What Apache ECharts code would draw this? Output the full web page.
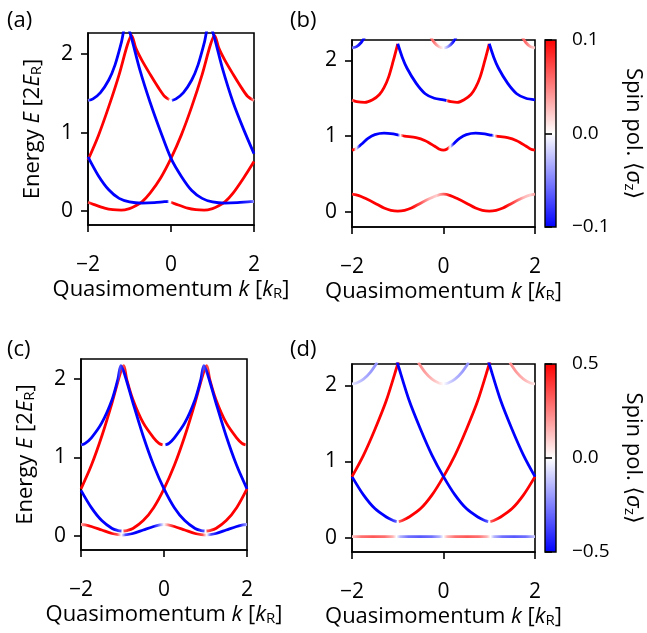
<!DOCTYPE html>
<html>
<head>
<meta charset="utf-8">
<script src="https://cdn.jsdelivr.net/npm/echarts@6.0.0/dist/echarts.min.js"></script>
<style>
  html, body { margin: 0; padding: 0; background: #fff; }
  #chart { width: 647px; height: 633px; }
</style>
</head>
<body>
<div id="chart"></div>
<script>
// each curve: [k, E, spin polarisation <sigma_z>]
const kTicks = [-2, 0, 2];
const eTicks = [0, 1, 2];
const spinTicksTop = [-0.1, 0, 0.1];
const spinTicksBottom = [-0.5, 0, 0.5];

// (a)
const aRed1 = [[-2.0, 0.11, 0.05], [-1.85, 0.08, 0.1], [-1.6, 0.035, 0.1], [-1.4, 0.015, 0.1], [-1.2, 0.01, 0.1], [-1.0, 0.03, 0.1], [-0.85, 0.065, 0.1], [-0.7, 0.115, 0.1], [-0.5, 0.23, 0.1], [-0.25, 0.42, 0.1], [0.0, 0.67, 0.1], [0.25, 0.97, 0.1], [0.5, 1.33, 0.1], [0.75, 1.74, 0.1], [0.95, 2.12, 0.1], [1.05, 2.24, 0.1], [1.15, 2.08, 0.1], [1.3, 1.92, 0.1], [1.5, 1.74, 0.1], [1.7, 1.57, 0.1], [1.85, 1.46, 0.1], [2.0, 1.41, 0.0]];
const aRed2 = [[-2.0, 0.65, 0.1], [-1.75, 0.96, 0.1], [-1.5, 1.33, 0.1], [-1.25, 1.74, 0.1], [-1.05, 2.12, 0.1], [-0.95, 2.24, 0.1], [-0.85, 2.08, 0.1], [-0.7, 1.92, 0.1], [-0.5, 1.74, 0.1], [-0.3, 1.57, 0.1], [-0.15, 1.46, 0.1], [-0.04, 1.42, 0.0]];
const aRed3 = [[0.0, 0.11, 0.0], [0.1, 0.09, 0.1], [0.4, 0.035, 0.1], [0.6, 0.015, 0.1], [0.8, 0.01, 0.1], [1.0, 0.03, 0.1], [1.15, 0.065, 0.1], [1.3, 0.115, 0.1], [1.5, 0.23, 0.1], [1.75, 0.42, 0.1], [2.0, 0.63, 0.1]];
const aBlue1 = [[-2.0, 1.41, 0.0], [-1.88, 1.43, -0.1], [-1.7, 1.51, -0.1], [-1.5, 1.67, -0.1], [-1.35, 1.86, -0.1], [-1.2, 2.14, -0.1], [-1.08, 2.4, -0.1], [-0.97, 2.24, -0.1], [-0.75, 1.8, -0.1], [-0.5, 1.38, -0.1], [-0.25, 1.01, -0.1], [0.0, 0.67, -0.1], [0.25, 0.44, -0.1], [0.5, 0.26, -0.1], [0.75, 0.16, -0.1], [1.0, 0.115, -0.1], [1.3, 0.1, -0.1], [1.6, 0.105, -0.1], [1.85, 0.115, -0.08], [2.0, 0.12, -0.02]];
const aBlue2 = [[0.02, 1.41, 0.0], [0.12, 1.43, -0.1], [0.3, 1.51, -0.1], [0.5, 1.67, -0.1], [0.65, 1.86, -0.1], [0.8, 2.14, -0.1], [0.92, 2.4, -0.1], [1.03, 2.24, -0.1], [1.25, 1.8, -0.1], [1.5, 1.38, -0.1], [1.75, 1.04, -0.1], [2.0, 0.73, -0.1]];
const aBlue3 = [[-2.0, 0.69, -0.1], [-1.75, 0.45, -0.1], [-1.5, 0.27, -0.1], [-1.25, 0.16, -0.1], [-1.0, 0.115, -0.1], [-0.7, 0.1, -0.1], [-0.4, 0.105, -0.1], [-0.16, 0.117, -0.1], [-0.06, 0.12, 0.0]];

// (b)
const bLow = [[-2.0, 0.233, 0.07], [-1.85, 0.215, 0.1], [-1.7, 0.175, 0.1], [-1.5, 0.115, 0.1], [-1.3, 0.05, 0.1], [-1.15, 0.02, 0.1], [-1.0, 0.01, 0.1], [-0.85, 0.02, 0.1], [-0.7, 0.05, 0.1], [-0.5, 0.115, 0.07], [-0.3, 0.175, 0.03], [-0.15, 0.215, 0.02], [0.0, 0.233, 0.06], [0.15, 0.215, 0.1], [0.3, 0.175, 0.1], [0.5, 0.115, 0.1], [0.7, 0.05, 0.1], [0.85, 0.02, 0.1], [1.0, 0.01, 0.1], [1.15, 0.02, 0.1], [1.3, 0.05, 0.1], [1.5, 0.115, 0.07], [1.7, 0.175, 0.03], [1.85, 0.215, 0.02], [2.0, 0.233, 0.05]];
const bMid = [[-2.0, 0.815, 0.1], [-1.92, 0.83, 0.1], [-1.86, 0.86, 0.0], [-1.78, 0.9, -0.1], [-1.65, 0.97, -0.1], [-1.5, 1.02, -0.1], [-1.3, 1.04, -0.1], [-1.1, 1.03, -0.1], [-0.98, 1.015, -0.1], [-0.92, 1.01, 0.0], [-0.85, 1.0, 0.1], [-0.6, 0.98, 0.1], [-0.4, 0.94, 0.1], [-0.2, 0.87, 0.1], [-0.1, 0.83, 0.1], [0.0, 0.815, 0.1], [0.08, 0.83, 0.1], [0.14, 0.86, 0.0], [0.22, 0.9, -0.1], [0.35, 0.97, -0.1], [0.5, 1.02, -0.1], [0.7, 1.04, -0.1], [0.9, 1.03, -0.1], [1.02, 1.015, -0.1], [1.08, 1.01, 0.0], [1.15, 1.0, 0.1], [1.4, 0.98, 0.1], [1.6, 0.94, 0.1], [1.8, 0.87, 0.1], [1.9, 0.83, 0.1], [2.0, 0.815, 0.1]];
const bUpRed1 = [[-2.0, 1.476, 0.02], [-1.9, 1.455, 0.1], [-1.72, 1.445, 0.1], [-1.55, 1.48, 0.1], [-1.4, 1.55, 0.1], [-1.3, 1.64, 0.1], [-1.2, 1.78, 0.1], [-1.1, 1.99, 0.1], [-1.0, 2.22, 0.1]];
const bUpBlue1 = [[-1.0, 2.22, -0.1], [-0.9, 2.04, -0.1], [-0.8, 1.9, -0.1], [-0.6, 1.7, -0.1], [-0.4, 1.56, -0.1], [-0.2, 1.5, -0.1], [0.0, 1.48, -0.1], [0.07, 1.47, 0.0]];
const bUpRed2 = [[0.07, 1.468, 0.0], [0.16, 1.455, 0.1], [0.3, 1.445, 0.1], [0.45, 1.48, 0.1], [0.6, 1.55, 0.1], [0.7, 1.64, 0.1], [0.8, 1.78, 0.1], [0.9, 1.99, 0.1], [1.0, 2.22, 0.1]];
const bUpBlue2 = [[1.0, 2.22, -0.1], [1.1, 2.04, -0.1], [1.2, 1.9, -0.1], [1.4, 1.7, -0.1], [1.6, 1.56, -0.1], [1.8, 1.5, -0.1], [2.0, 1.48, -0.1]];
const bTopL = [[-2.0, 2.165, -0.03], [-1.9, 2.183, -0.08], [-1.8, 2.237, -0.1], [-1.7, 2.33, -0.1]];
const bTopM = [[-0.3, 2.33, 0.07], [-0.2, 2.237, 0.06], [-0.1, 2.183, 0.03], [0.0, 2.165, 0.0], [0.1, 2.183, -0.05], [0.2, 2.237, -0.1], [0.3, 2.33, -0.1]];
const bTopR = [[1.7, 2.33, 0.07], [1.8, 2.237, 0.06], [1.9, 2.183, 0.03], [2.0, 2.165, 0.01]];

// (c)
const cLow = [[-2.0, 0.145, 0.05], [-1.9, 0.14, 0.25], [-1.75, 0.12, 0.5], [-1.5, 0.075, 0.5], [-1.25, 0.03, 0.5], [-1.1, 0.015, 0.35], [-1.0, 0.01, 0.0], [-0.9, 0.015, -0.35], [-0.75, 0.03, -0.5], [-0.5, 0.075, -0.5], [-0.25, 0.12, -0.5], [-0.1, 0.14, -0.25], [0.0, 0.145, 0.0], [0.1, 0.14, 0.25], [0.25, 0.12, 0.5], [0.5, 0.075, 0.5], [0.75, 0.03, 0.5], [0.9, 0.015, 0.35], [1.0, 0.01, 0.0], [1.1, 0.015, -0.35], [1.25, 0.03, -0.5], [1.5, 0.075, -0.5], [1.75, 0.12, -0.5], [1.9, 0.14, -0.25], [2.0, 0.145, -0.05]];
const cBlueL = [[-2.0, 0.58, -0.5], [-1.75, 0.36, -0.5], [-1.5, 0.195, -0.5], [-1.25, 0.095, -0.5], [-1.1, 0.068, -0.35], [-1.02, 0.062, 0.0]];
const cRed1 = [[-0.98, 0.062, 0.0], [-0.9, 0.068, 0.35], [-0.75, 0.095, 0.5], [-0.5, 0.195, 0.5], [-0.25, 0.36, 0.5], [0.0, 0.6, 0.5], [0.25, 0.9, 0.5], [0.5, 1.27, 0.5], [0.75, 1.7, 0.5], [0.94, 2.06, 0.5], [1.03, 2.17, 0.35], [1.1, 2.0, 0.5], [1.25, 1.74, 0.5], [1.5, 1.44, 0.5], [1.75, 1.25, 0.5], [1.88, 1.18, 0.5], [1.97, 1.16, 0.0]];
const cRed2 = [[-2.0, 0.6, 0.5], [-1.75, 0.9, 0.5], [-1.5, 1.27, 0.5], [-1.25, 1.7, 0.5], [-1.06, 2.06, 0.5], [-0.97, 2.17, 0.35], [-0.9, 2.0, 0.5], [-0.75, 1.74, 0.5], [-0.5, 1.44, 0.5], [-0.25, 1.25, 0.5], [-0.12, 1.18, 0.5], [-0.03, 1.16, 0.0]];
const cRed3 = [[1.02, 0.062, 0.0], [1.1, 0.068, 0.35], [1.25, 0.095, 0.5], [1.5, 0.195, 0.5], [1.75, 0.36, 0.5], [2.0, 0.6, 0.5]];
const cBlue1 = [[-2.0, 1.16, 0.0], [-1.9, 1.18, -0.5], [-1.75, 1.25, -0.5], [-1.5, 1.44, -0.5], [-1.25, 1.74, -0.5], [-1.11, 2.0, -0.5], [-1.04, 2.17, -0.35], [-0.95, 2.06, -0.5], [-0.75, 1.7, -0.5], [-0.5, 1.27, -0.5], [-0.25, 0.9, -0.5], [0.0, 0.6, -0.5], [0.25, 0.36, -0.5], [0.5, 0.195, -0.5], [0.75, 0.095, -0.5], [0.9, 0.068, -0.35], [0.98, 0.062, 0.0]];
const cBlue2 = [[0.03, 1.16, 0.0], [0.12, 1.18, -0.5], [0.25, 1.25, -0.5], [0.5, 1.44, -0.5], [0.75, 1.74, -0.5], [0.89, 2.0, -0.5], [0.96, 2.17, -0.35], [1.05, 2.06, -0.5], [1.25, 1.7, -0.5], [1.5, 1.27, -0.5], [1.75, 0.9, -0.5], [2.0, 0.6, -0.5]];

// (d)
const dLow = [[-2.0, 0.013, 0.03], [-1.9, 0.013, 0.15], [-1.75, 0.013, 0.28], [-1.5, 0.013, 0.33], [-1.25, 0.013, 0.28], [-1.08, 0.013, 0.15], [-1.0, 0.013, 0.0], [-0.92, 0.013, -0.15], [-0.75, 0.013, -0.28], [-0.5, 0.013, -0.33], [-0.25, 0.013, -0.28], [-0.08, 0.013, -0.15], [0.0, 0.013, 0.0], [0.08, 0.013, 0.15], [0.25, 0.013, 0.28], [0.5, 0.013, 0.33], [0.75, 0.013, 0.28], [0.92, 0.013, 0.15], [1.0, 0.013, 0.0], [1.08, 0.013, -0.15], [1.25, 0.013, -0.28], [1.5, 0.013, -0.33], [1.75, 0.013, -0.28], [1.9, 0.013, -0.15], [2.0, 0.013, -0.03]];
const dBlueL = [[-2.0, 0.8, -0.5], [-1.75, 0.56, -0.5], [-1.5, 0.38, -0.5], [-1.25, 0.27, -0.5], [-1.1, 0.225, -0.35], [-1.02, 0.21, 0.0]];
const dRed1 = [[-0.98, 0.21, 0.0], [-0.9, 0.225, 0.35], [-0.75, 0.27, 0.5], [-0.5, 0.38, 0.5], [-0.25, 0.56, 0.5], [0.0, 0.8, 0.5], [0.25, 1.08, 0.5], [0.5, 1.42, 0.5], [0.75, 1.8, 0.5], [1.0, 2.28, 0.5], [1.05, 2.38, 0.5]];
const dRedL = [[-2.0, 0.8, 0.5], [-1.75, 1.08, 0.5], [-1.5, 1.42, 0.5], [-1.25, 1.8, 0.5], [-1.0, 2.28, 0.5], [-0.95, 2.38, 0.5]];
const dBlue1 = [[-1.05, 2.38, -0.5], [-1.0, 2.28, -0.5], [-0.75, 1.8, -0.5], [-0.5, 1.42, -0.5], [-0.25, 1.08, -0.5], [0.0, 0.8, -0.5], [0.25, 0.56, -0.5], [0.5, 0.38, -0.5], [0.75, 0.27, -0.5], [0.9, 0.225, -0.35], [0.98, 0.21, 0.0]];
const dRedR = [[1.02, 0.21, 0.0], [1.1, 0.225, 0.35], [1.25, 0.27, 0.5], [1.5, 0.38, 0.5], [1.75, 0.56, 0.5], [2.0, 0.8, 0.5]];
const dBlueR = [[0.95, 2.38, -0.5], [1.0, 2.28, -0.5], [1.25, 1.8, -0.5], [1.5, 1.42, -0.5], [1.75, 1.08, -0.5], [2.0, 0.8, -0.5]];
const dTopL = [[-2.0, 2.02, -0.02], [-1.9, 2.03, -0.08], [-1.75, 2.08, -0.15], [-1.6, 2.17, -0.2], [-1.45, 2.3, -0.22]];
const dTopM = [[-0.55, 2.3, 0.25], [-0.4, 2.17, 0.2], [-0.25, 2.08, 0.15], [-0.1, 2.03, 0.08], [0.0, 2.02, 0.0], [0.1, 2.03, -0.08], [0.25, 2.08, -0.15], [0.4, 2.17, -0.2], [0.55, 2.3, -0.22]];
const dTopR = [[1.45, 2.3, 0.25], [1.6, 2.17, 0.2], [1.75, 2.08, 0.15], [1.9, 2.03, 0.08], [2.0, 2.02, 0.02]];

const panels = [
  { label: '(a)', curves: [aRed1, aRed2, aRed3, aBlue1, aBlue2, aBlue3], range: 0.1,
    grid: { left: 88, top: 33, width: 166, height: 192 }, ylim: [-0.18, 2.27] },
  { label: '(b)', curves: [bLow, bMid, bUpRed1, bUpBlue1, bUpRed2, bUpBlue2, bTopL, bTopM, bTopR], range: 0.1,
    grid: { left: 352, top: 40, width: 183, height: 187 }, ylim: [-0.2, 2.27] },
  { label: '(c)', curves: [cLow, cBlueL, cRed1, cRed2, cRed3, cBlue1, cBlue2], range: 0.5,
    grid: { left: 81, top: 359, width: 166, height: 191 }, ylim: [-0.18, 2.255] },
  { label: '(d)', curves: [dLow, dBlueL, dRed1, dRedL, dBlue1, dRedR, dBlueR, dTopL, dTopM, dTopR], range: 0.5,
    grid: { left: 352, top: 364, width: 183, height: 188 }, ylim: [-0.19, 2.28] }
];
const colorbars = [
  { ticks: spinTicksTop, grid: { left: 545, top: 40, width: 11, height: 187 } },
  { ticks: spinTicksBottom, grid: { left: 545, top: 364, width: 11, height: 188 } }
];
const labelPos = [[7, 10], [290, 10], [7, 339], [290, 339]];

const font = "'Open Sans', 'DejaVu Sans', sans-serif";
const fs = 21;

// matplotlib 'bwr'
function bwr(t) {
  t = Math.max(-1, Math.min(1, t));
  const c = Math.round(255 * (1 - Math.abs(t)));
  return t >= 0 ? `rgb(255,${c},${c})` : `rgb(${c},${c},255)`;
}
function spinGradient(pts, range) {
  const k0 = pts[0][0], k1 = pts[pts.length - 1][0];
  return new echarts.graphic.LinearGradient(0, 0, 1, 0,
    pts.map(p => ({ offset: (p[0] - k0) / (k1 - k0), color: bwr(p[2] / range) })));
}
const minus = v => String(v).replace('-', '\u2212');

const rich = {
  t: { fontSize: 22, fontFamily: font, color: '#000' },
  i: { fontSize: 22, fontFamily: font, color: '#000', fontStyle: 'italic' },
  s: { fontSize: 15, fontFamily: font, color: '#000', verticalAlign: 'bottom' }
};
const xName = '{t|Quasimomentum }{i|k}{t| [}{i|k}{s|R}{t|]}';
const yName = '{t|Energy }{i|E}{t| [2}{i|E}{s|R}{t|]}';
const cName = '{t|Spin pol. \u27e8}{i|\u03c3}{s|z}{t|\u27e9}';

const frame = { color: '#000', width: 1.6 };
const grid = [], xAxis = [], yAxis = [], series = [];

panels.forEach((p, i) => {
  grid.push(Object.assign({ show: true, borderColor: '#000', borderWidth: 1.6, outerBoundsMode: 'none' }, p.grid));
  xAxis.push({
    gridIndex: i, type: 'value', min: kTicks[0], max: kTicks[2], interval: 2,
    axisLine: { onZero: false, lineStyle: frame },
    axisTick: { length: 7, lineStyle: frame },
    axisLabel: { color: '#000', fontSize: fs, fontFamily: font, margin: 30, formatter: minus },
    splitLine: { show: false },
    name: xName, nameLocation: 'middle', nameGap: 54, nameTextStyle: { rich }
  });
  yAxis.push({
    gridIndex: i, type: 'value', min: p.ylim[0], max: p.ylim[1],
    axisLine: { onZero: false, lineStyle: frame },
    axisTick: { length: 7, lineStyle: frame, customValues: eTicks },
    axisLabel: { color: '#000', fontSize: fs, fontFamily: font, margin: 15, customValues: eTicks },
    splitLine: { show: false },
    name: i % 2 === 0 ? yName : '', nameLocation: 'middle', nameGap: 44, nameTextStyle: { rich }
  });
  p.curves.forEach(c => series.push({
    type: 'line', xAxisIndex: i, yAxisIndex: i,
    data: c.map(d => [d[0], d[1]]),
    smooth: 0.3, showSymbol: false, silent: true,
    lineStyle: { width: 2.8, color: spinGradient(c, p.range) }
  }));
});

colorbars.forEach((cb, j) => {
  const i = panels.length + j;
  grid.push(Object.assign({
    show: true, borderColor: '#000', borderWidth: 1.4, outerBoundsMode: 'none',
    backgroundColor: new echarts.graphic.LinearGradient(0, 0, 0, 1, [
      { offset: 0, color: bwr(1) }, { offset: 0.5, color: bwr(0) }, { offset: 1, color: bwr(-1) }])
  }, cb.grid));
  xAxis.push({ gridIndex: i, type: 'value', min: 0, max: 1, show: false });
  yAxis.push({
    gridIndex: i, type: 'value', position: 'right', min: cb.ticks[0], max: cb.ticks[2],
    axisLine: { show: false },
    axisTick: { show: true, length: 7, lineStyle: frame, customValues: cb.ticks },
    axisLabel: { color: '#000', fontSize: 19, fontFamily: font, margin: 16, customValues: cb.ticks,
      formatter: v => minus(v.toFixed(1)) },
    splitLine: { show: false },
    name: cName, nameLocation: 'middle', nameRotate: -90, nameGap: 66, nameTextStyle: { rich }
  });
});

const chart = echarts.init(document.getElementById('chart'));
chart.setOption({
  animation: false,
  backgroundColor: '#fff',
  title: panels.map((p, i) => ({
    text: p.label, left: labelPos[i][0], top: labelPos[i][1], padding: 0,
    textStyle: { fontSize: 22, fontWeight: 'normal', fontFamily: font, color: '#000' }
  })),
  grid, xAxis, yAxis, series
});
window.addEventListener('resize', () => chart.resize());
</script>
</body>
</html>
